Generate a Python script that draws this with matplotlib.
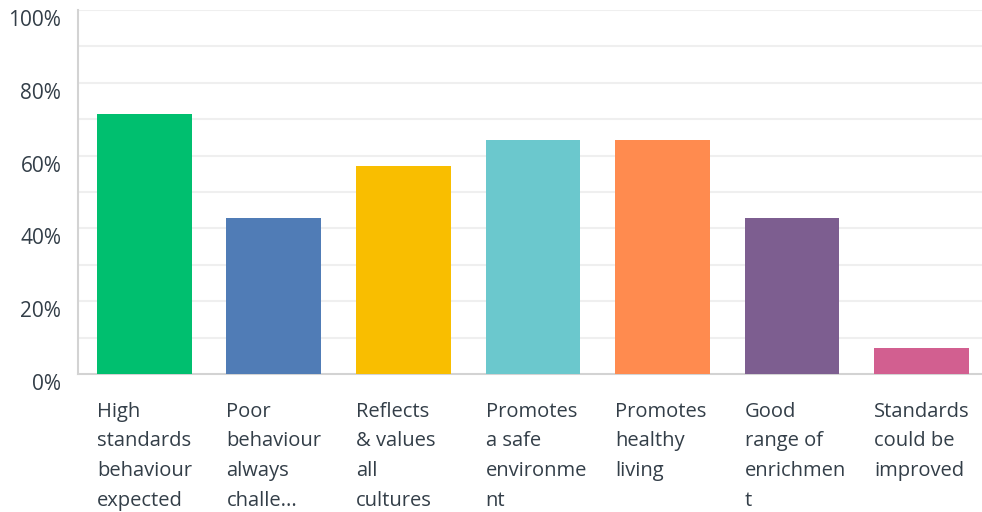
import matplotlib
matplotlib.use("Agg")
import matplotlib.pyplot as plt
from matplotlib.ticker import FuncFormatter

categories = [
    "High\nstandards\nbehaviour\nexpected",
    "Poor\nbehaviour\nalways\nchalle...",
    "Reflects\n& values\nall\ncultures",
    "Promotes\na safe\nenvironme\nnt",
    "Promotes\nhealthy\nliving",
    "Good\nrange of\nenrichmen\nt",
    "Standards\ncould be\nimproved",
]
values = [71.43, 42.86, 57.14, 64.29, 64.29, 42.86, 7.14]
colors = ["#00bf6f", "#507cb6", "#f9be00", "#6bc8cd", "#ff8b4f", "#7d5e90", "#d25f90"]
yticks = [0, 20, 40, 60, 80, 100]

plt.rcParams['font.family'] = ['Open Sans', 'DejaVu Sans']
text_color = "#333e48"

fig = plt.figure(figsize=(9.82, 5.12), dpi=100)
ax = fig.add_axes([78/982, 138/512, 1 - 78/982, (374-10)/512])

width = 0.733
x = list(range(len(values)))
ax.bar(x, values, width=width, color=colors, zorder=3)

ax.set_xlim(-0.513, 6.467)
ax.set_ylim(0, 100)

for g in range(10, 101, 10):
    ax.axhline(g, color="#efefef", lw=1.5, zorder=1)

ax.set_yticks(yticks)
ax.yaxis.set_major_formatter(FuncFormatter(lambda v, p: f"{int(v)}%"))
for lab in ax.get_yticklabels():
    lab.set_verticalalignment('top')
ax.tick_params(axis='y', length=0, pad=12, labelsize=15, labelcolor=text_color)

ax.set_xticks([i - width/2 for i in x])
ax.set_xticklabels(categories, ha='left', multialignment='left', linespacing=1.64)
ax.tick_params(axis='x', length=0, pad=20, labelsize=14.5, labelcolor=text_color)

for s in ['top', 'right']:
    ax.spines[s].set_visible(False)
for s in ['left', 'bottom']:
    ax.spines[s].set_color("#d3d3d3")
    ax.spines[s].set_linewidth(1.5)

fig.savefig("out.png", dpi=100)
